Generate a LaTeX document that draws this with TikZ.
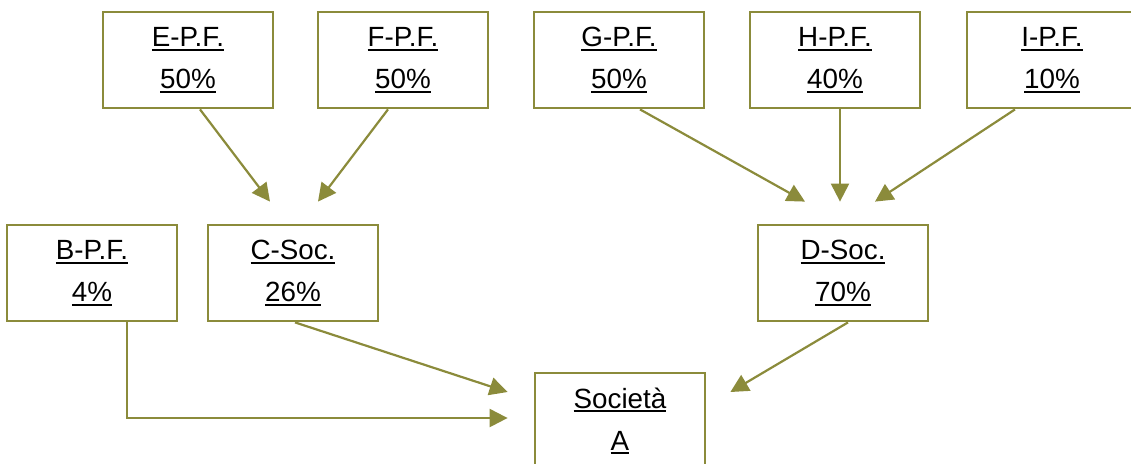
\documentclass[tikz,border=0pt]{standalone}
\usepackage{fontspec}
\setmainfont{Liberation Sans}
\usetikzlibrary{arrows.meta,calc}
\definecolor{olivebr}{RGB}{139,139,59}
\newcommand{\ulbl}[1]{\setbox0\hbox{#1}\leavevmode\rlap{\rule[-2pt]{\wd0}{1pt}}\box0}
\tikzset{
    holder/.style={draw=olivebr, line width=1.4pt, fill=white, minimum width=85pt,
        minimum height=48pt, inner sep=0pt, align=center,
        font=\fontsize{13.9}{21}\selectfont},
    link/.style={draw=olivebr, line width=1.1pt, -{Triangle[length=9pt,width=9pt]}, olivebr}
}
\begin{document}
\begin{tikzpicture}[x=0.5pt, y=-0.5pt]
    \useasboundingbox (0,0) rectangle (1131,463);
    \node[holder] (e) at (188,60) {\ulbl{E-P.F.}\\\ulbl{50\%}};
    \node[holder] (f) at (403,60) {\ulbl{F-P.F.}\\\ulbl{50\%}};
    \node[holder] (g) at (619,60) {\ulbl{G-P.F.}\\\ulbl{50\%}};
    \node[holder] (h) at (835,60) {\ulbl{H-P.F.}\\\ulbl{40\%}};
    \node[holder] (i) at (1052,60) {\ulbl{I-P.F.}\\\ulbl{10\%}};
    \node[holder] (b) at (92,273) {\ulbl{B-P.F.}\\\ulbl{4\%}};
    \node[holder] (c) at (293,273) {\ulbl{C-Soc.}\\\ulbl{26\%}};
    \node[holder] (d) at (843,273) {\ulbl{D-Soc.}\\\ulbl{70\%}};
    \node[holder] (a) at (620,421) {\ulbl{Società}\\\ulbl{A}};
    \draw[link] ($(e.south)+(12,0)$) -- ($(c.north)+(-23,-22)$);
    \draw[link] ($(f.south)+(-15,0)$) -- ($(c.north)+(25,-22)$);
    \draw[link] ($(g.south)+(21,0)$) -- ($(d.north)+(-38,-22)$);
    \draw[link] ($(h.south)+(5,0)$) -- ($(d.north)+(-3,-22)$);
    \draw[link] ($(i.south)+(-37,0)$) -- ($(d.north)+(32,-22)$);
    \draw[link] ($(c.south)+(2,0)$) -- ($(a.west)+(-26,-29)$);
    \draw[link] ($(b.south)+(35,0)$) |- ($(a.west)+(-26,-3)$);
    \draw[link] ($(d.south)+(5,0)$) -- ($(a.east)+(24,-29)$);
\end{tikzpicture}
\end{document}
